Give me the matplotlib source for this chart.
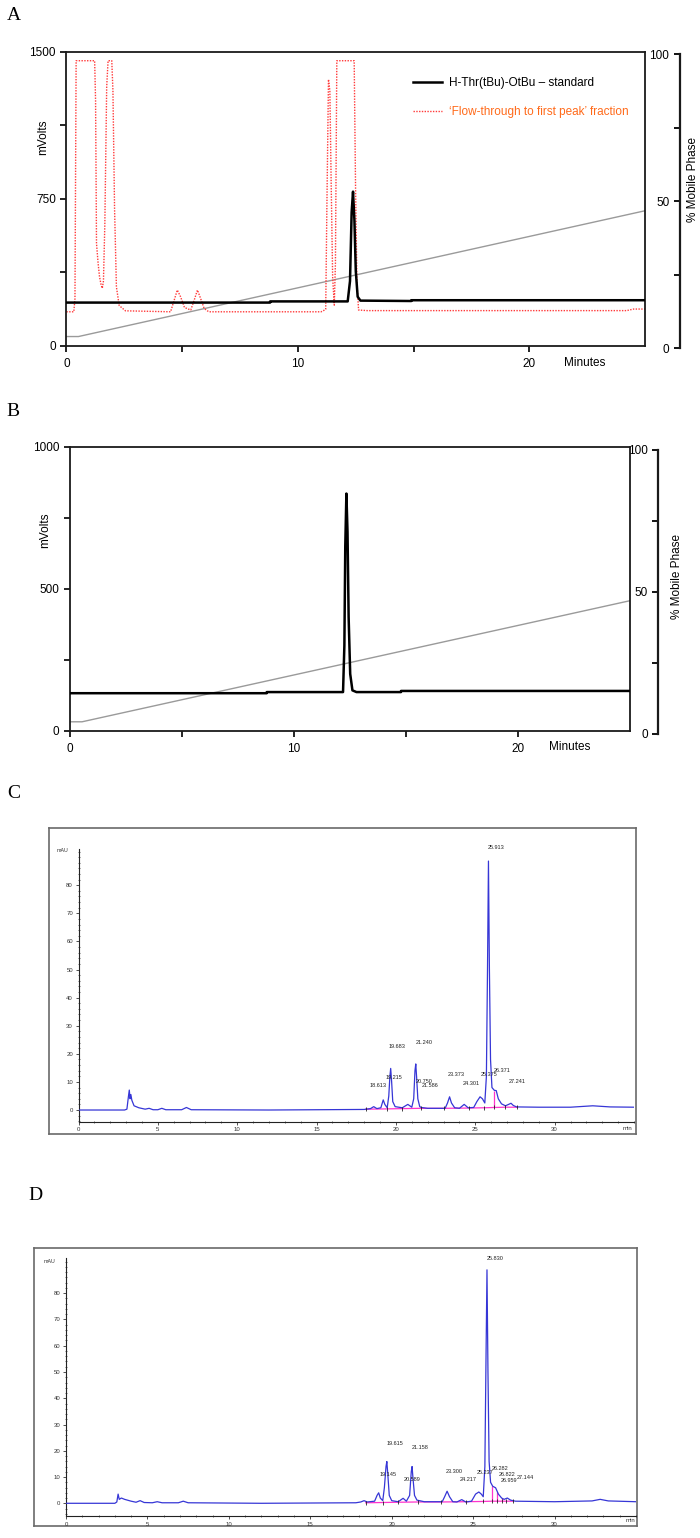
import matplotlib
matplotlib.use("Agg")
import matplotlib.pyplot as plt
from matplotlib.ticker import MultipleLocator, FixedLocator

# ---------------- DATA ----------------
# Panel A: standard trace (minutes, mV)
A_std_t = [0, 8.8, 8.8, 12.15, 12.25, 12.32, 12.38, 12.44, 12.5, 12.58, 12.7, 14.9, 14.9, 25]
A_std_v = [220, 220, 226, 226, 330, 680, 786, 640, 380, 250, 230, 228, 232, 232]
# Panel A: flow-through fraction trace
A_ft_t = [0, 0.32, 0.37, 0.42, 1.22, 1.26, 1.30, 1.37, 1.43, 1.50, 1.55, 1.60, 1.66, 1.74, 1.80,
          1.96, 2.01, 2.08, 2.16, 2.28, 2.55, 4.5, 4.65, 4.79, 4.93, 5.1, 5.37, 5.5, 5.66, 5.8,
          5.95, 6.15, 11.0, 11.12, 11.2, 11.25, 11.32, 11.38, 11.44, 11.5, 11.57, 11.62, 11.68,
          12.43, 12.49, 12.55, 12.62, 13.0, 24.2, 24.5, 25]
A_ft_v = [173, 173, 240, 1454, 1454, 1250, 522, 420, 352, 310, 293, 330, 620, 1320, 1454,
          1454, 1300, 700, 300, 205, 178, 173, 230, 284, 250, 195, 182, 225, 284, 240,
          190, 173, 173, 180, 186, 700, 1359, 1300, 800, 350, 207, 420, 1454,
          1454, 800, 320, 182, 179, 179, 187, 187]
# Panel A: gradient (% mobile phase)
A_grad_t = [0, 0.52, 25]
A_grad_v = [4.0, 4.0, 46.8]

# Panel B: standard trace
B_std_t = [0, 8.79, 8.79, 12.2, 12.26, 12.3, 12.35, 12.4, 12.45, 12.52, 12.62, 12.8, 14.79, 14.79, 25]
B_std_v = [132, 132, 136, 136, 300, 650, 835, 700, 400, 200, 142, 136, 136, 140, 140]
B_grad_t = [0, 0.54, 25]
B_grad_v = [4.3, 4.3, 46.9]

# Panel C: chromatogram (min, mAU)
C_t = [0, 2.9, 3.05, 3.15, 3.2, 3.25, 3.3, 3.36, 3.5, 3.8, 4.2, 4.45, 4.7, 5.0, 5.25, 5.5, 6.5, 6.8,
       7.1, 12, 18.0, 18.4, 18.6, 18.8, 19.05, 19.2, 19.3, 19.45, 19.55, 19.62, 19.67, 19.73, 19.8,
       19.95, 20.4, 20.75, 21.0, 21.12, 21.2, 21.25, 21.3, 21.38, 21.5, 21.6, 22.0, 23.1, 23.25,
       23.38, 23.5, 23.7, 24.0, 24.3, 24.55, 24.9, 25.1, 25.3, 25.45, 25.6, 25.7, 25.77, 25.83,
       25.89, 25.96, 26.05, 26.2, 26.32, 26.45, 26.65, 26.9, 27.1, 27.25, 27.4, 27.6, 29, 31,
       32.4, 33.5, 35]
C_v = [0, 0, 0.3, 5, 7.1, 4.0, 5.5, 3.5, 1.5, 0.8, 0.3, 0.6, 0.1, 0.1, 0.6, 0.1, 0.1, 0.9,
       0.1, 0, 0.2, 0.5, 1.2, 0.5, 0.8, 3.6, 2.0, 0.8, 5, 12, 14.8, 10, 3,
       1.2, 0.8, 2.0, 1.0, 4, 14, 16.4, 12, 4, 1.2, 0.9, 0.6, 0.6, 2.5,
       4.7, 2.5, 0.8, 0.6, 2.0, 0.8, 0.9, 3, 4.7, 4, 2.5, 12, 50, 88.6,
       50, 18, 8, 7.0, 6.9, 4, 2.2, 1.5, 2.0, 2.4, 1.6, 1.1, 1.0, 1.0,
       1.5, 1.1, 1.0]
C_base_t = [18.1, 19.45, 20.4, 21.55, 23.0, 24.6, 25.55, 26.2, 26.9, 27.65]
C_base_v = [0.3, 0.4, 0.5, 0.6, 0.6, 0.7, 0.8, 0.9, 1.0, 1.0]
C_drop_t = [26.2]
C_drop_v = [6.8]
C_labels = ["25.913", "19.683", "21.240", "19.215", "18.613", "20.750", "21.586",
            "23.373", "24.301", "25.375", "26.371", "27.241"]

# Panel D: chromatogram
D_t = [0, 3.0, 3.12, 3.2, 3.27, 3.4, 3.6, 4.0, 4.3, 4.55, 4.8, 5.3, 5.6, 5.9, 6.9, 7.2, 7.5, 12,
       17.8, 18.1, 18.3, 18.5, 18.95, 19.1, 19.2, 19.3, 19.45, 19.55, 19.65, 19.7, 19.76, 19.85,
       20.0, 20.4, 20.7, 20.9, 21.1, 21.2, 21.25, 21.3, 21.4, 21.55, 22.0, 23.1, 23.25, 23.4,
       23.55, 23.75, 24.0, 24.3, 24.55, 24.9, 25.15, 25.35, 25.5, 25.62, 25.72, 25.79, 25.85,
       25.91, 25.98, 26.07, 26.2, 26.38, 26.55, 26.75, 26.9, 27.1, 27.3, 27.6, 30, 32.3, 32.8,
       33.3, 35]
D_v = [0, 0, 0.5, 3.5, 1.5, 2.0, 1.5, 0.8, 0.4, 1.0, 0.3, 0.2, 0.6, 0.2, 0.2, 0.8, 0.2, 0,
       0.2, 0.5, 1.0, 0.5, 0.8, 3.0, 4.0, 2.0, 1.0, 6, 14, 15.9, 11, 3,
       1.0, 0.6, 1.9, 0.8, 3, 12, 14.0, 10, 3, 1.2, 0.6, 0.6, 2.5, 4.6,
       2.5, 0.6, 0.5, 1.4, 0.5, 0.8, 3.5, 4.3, 3.5, 2.5, 14, 55, 88.9,
       50, 16, 8, 6.5, 5.9, 3.5, 2.0, 1.5, 2.0, 1.2, 0.8, 0.6, 0.9, 1.5,
       0.9, 0.6]
D_base_t = [18.4, 19.45, 20.4, 21.6, 23.0, 24.55, 25.6, 26.17, 26.45, 26.75, 27.0, 27.45]
D_base_v = [0.2, 0.3, 0.4, 0.5, 0.5, 0.6, 0.7, 0.8, 0.8, 0.8, 0.8, 0.8]
D_drop_t = [26.17, 26.45, 26.75]
D_drop_v = [6.4, 4.2, 2.0]
D_labels = ["25.830", "19.615", "21.158", "19.145", "20.589", "23.300", "24.217",
            "25.237", "26.282", "26.822", "26.959", "27.144"]

# ---------------- LAYOUT ----------------
C_label_pos = [(26.34, 93.3), (20.08, 22.5), (21.75, 24.0), (19.86, 11.5), (18.88, 8.9),
               (21.75, 10.1), (22.18, 8.9), (23.82, 12.7), (24.74, 9.5), (25.86, 12.7),
               (26.70, 13.9), (27.65, 10.1)]
D_label_pos = [(26.37, 93.3), (20.22, 22.9), (21.75, 21.2), (19.75, 11.0), (21.24, 8.9),
               (23.85, 12.0), (24.71, 8.9), (25.76, 11.8), (26.62, 13.4), (27.05, 11.0),
               (27.22, 8.6), (28.2, 9.8)]

W, H = 700, 1538
plt.rcParams['font.family'] = ['Liberation Sans', 'DejaVu Sans']
fig = plt.figure(figsize=(7, 15.38), dpi=100)


def box(x0, y0, x1, y1):
    return [x0 / W, 1 - y1 / H, (x1 - x0) / W, (y1 - y0) / H]


def ftext(x, y, s, **kw):
    return fig.text(x / W, 1 - y / H, s, **kw)


SERIF = ['Liberation Serif', 'DejaVu Serif']
FS = 8.5
GRAD_COLOR = '#9a9a9a'


def hplc_panel(main, right_x, right_y0, right_y1, ymax, yticks, yminor):
    ax = fig.add_axes(box(*main))
    ax.set_xlim(0, 25)
    ax.set_ylim(0, ymax)
    for s in ax.spines.values():
        s.set_linewidth(1.3)
        s.set_color('#1a1a1a')
    ax.set_xticks([0, 10, 20])
    ax.xaxis.set_minor_locator(FixedLocator([5, 15]))
    ax.set_yticks(yticks)
    ax.yaxis.set_minor_locator(FixedLocator(yminor))
    ax.tick_params(which='both', direction='out', length=4, width=1.2, labelsize=FS,
                   top=False, right=False)
    ax.tick_params(axis='x', pad=5)
    ax.patch.set_alpha(0)
    ax.set_zorder(2)
    ag = fig.add_axes(box(main[0], right_y0, main[2], right_y1))
    ag.set_xlim(0, 25)
    ag.set_ylim(0, 100)
    ag.axis('off')
    ag.set_zorder(1)
    ar = fig.add_axes(box(right_x, right_y0, right_x + 0.01, right_y1))
    ar.set_ylim(0, 100)
    ar.set_xticks([])
    for k in ['top', 'right', 'bottom']:
        ar.spines[k].set_visible(False)
    ar.spines['left'].set_linewidth(1.6)
    ar.spines['left'].set_color('#1a1a1a')
    ar.set_yticks([0, 50, 100])
    ar.yaxis.set_minor_locator(FixedLocator([25, 75]))
    ar.tick_params(which='both', direction='out', length=4, width=1.3, labelsize=FS)
    ar.patch.set_alpha(0)
    return ax, ag


# ---- Panel A ----
ftext(13.5, 16, 'A', family=SERIF, fontsize=14, ha='center', va='center')
axA, agA = hplc_panel((66.4, 51.7, 645.2, 345.7), 679.8, 54.3, 348.3, 1500,
                      [0, 750, 1500], [375, 1125])
agA.plot(A_grad_t, A_grad_v, color=GRAD_COLOR, lw=1.0)
axA.plot(A_ft_t, A_ft_v, color='#ff3a3a', lw=1.0, ls=(0, (1, 1)),
         label="\u2018Flow-through to first peak\u2019 fraction", zorder=2)
axA.plot(A_std_t, A_std_v, color='black', lw=1.8,
         label='H-Thr(tBu)-OtBu \u2013 standard', zorder=3)
h, l = axA.get_legend_handles_labels()
axA.legend(h[::-1], l[::-1], loc='upper left', bbox_to_anchor=(412.8 / W, 1 - 77 / H),
           bbox_transform=fig.transFigure, frameon=False, fontsize=FS, borderpad=0,
           borderaxespad=0, handlelength=2.5, handletextpad=0.55, labelspacing=1.45,
           labelcolor=['black', '#ff6a1a'])
ftext(43.5, 137, 'mVolts', rotation=90, fontsize=FS, ha='center', va='center')
ftext(693, 179, '% Mobile Phase', rotation=90, fontsize=FS, ha='center', va='center')
ftext(584.5, 362.7, 'Minutes', fontsize=FS, ha='center', va='center')

# ---- Panel B ----
ftext(12.6, 411.7, 'B', family=SERIF, fontsize=14, ha='center', va='center')
axB, agB = hplc_panel((70, 446.7, 629.5, 730.7), 658.2, 450, 734, 1000,
                      [0, 500, 1000], [250, 750])
agB.plot(B_grad_t, B_grad_v, color=GRAD_COLOR, lw=1.0)
axB.plot(B_std_t, B_std_v, color='black', lw=1.8, zorder=3)
ftext(45, 530, 'mVolts', rotation=90, fontsize=FS, ha='center', va='center')
ftext(677.5, 576, '% Mobile Phase', rotation=90, fontsize=FS, ha='center', va='center')
ftext(569.5, 746.7, 'Minutes', fontsize=FS, ha='center', va='center')

# ---- Chromatogram panels ----
TRACE = '#3636d6'
MAG = '#ff33cc'
SMALL = 4.3


def chrom_panel(frame, axbox, vmin, vmax, t, v, bt, bv, dt, dv, labels, lpos,
                mau_xy, min_xy):
    fr = fig.add_axes(box(*frame))
    fr.set_xticks([])
    fr.set_yticks([])
    for s in fr.spines.values():
        s.set_color('#6a6a6a')
        s.set_linewidth(1.2)
    fr.set_zorder(0)
    ax = fig.add_axes(box(*axbox))
    ax.set_xlim(0, 35)
    ax.set_ylim(vmin, vmax)
    ax.patch.set_alpha(0)
    ax.set_zorder(1)
    for k in ['top', 'right']:
        ax.spines[k].set_visible(False)
    for k in ['left', 'bottom']:
        ax.spines[k].set_linewidth(0.8)
        ax.spines[k].set_color('#222222')
    ax.set_xticks([0, 5, 10, 15, 20, 25, 30])
    ax.xaxis.set_minor_locator(MultipleLocator(1))
    ax.set_yticks([0, 10, 20, 30, 40, 50, 60, 70, 80])
    ax.yaxis.set_minor_locator(MultipleLocator(2))
    ax.tick_params(which='major', direction='out', length=2.5, width=0.6,
                   labelsize=SMALL, pad=1.5, colors='#333333')
    ax.tick_params(which='minor', direction='inout', length=2, width=0.5, colors='#333333')
    ax.plot(t, v, color=TRACE, lw=0.9, zorder=3)
    ax.plot(bt, bv, color=MAG, lw=0.9, zorder=2)
    ax.plot(bt, bv, ls='none', marker='|', ms=2.5, mew=0.6, color='#222222', zorder=4)
    ax.vlines(dt, [bv[bt.index(x)] if x in bt else 0.5 for x in dt], dv,
              color=MAG, lw=0.9, zorder=2)
    for s, (x, y) in zip(labels, lpos):
        ax.text(x, y, s, fontsize=4.0, ha='center', va='center', color='#222222',
                clip_on=False)
    ftext(mau_xy[0], mau_xy[1], 'mAU', fontsize=3.8, ha='center', va='center',
          color='#333333')
    ftext(min_xy[0], min_xy[1], 'min', fontsize=SMALL, ha='center', va='center',
          color='#333333')
    return ax


ftext(13.5, 793.3, 'C', family=SERIF, fontsize=14, ha='center', va='center')
chrom_panel((49.4, 828.3, 636.3, 1134), (78.5, 848.7, 634, 1121.7), -4.16, 93.0,
            C_t, C_v, C_base_t, C_base_v, C_drop_t, C_drop_v, C_labels, C_label_pos,
            (63, 850.7), (627.6, 1129))

ftext(35, 1195, 'D', family=SERIF, fontsize=14, ha='center', va='center')
chrom_panel((33.7, 1248.3, 637.2, 1526), (66, 1258.3, 636, 1516), -4.84, 93.3,
            D_t, D_v, D_base_t, D_base_v, D_drop_t, D_drop_v, D_labels, D_label_pos,
            (49.4, 1261.7), (630.6, 1520.7))

fig.savefig('out.png', dpi=100)
